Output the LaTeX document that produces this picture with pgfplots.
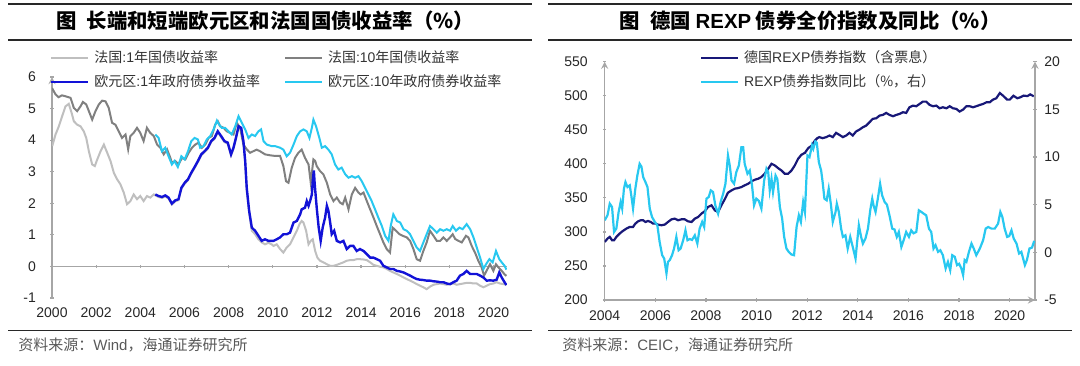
\documentclass[border=0pt]{standalone}
\usepackage{pgfplots}
\pgfplotsset{compat=1.18}
\usepackage{fontspec}
\setmainfont{Liberation Sans}
\newfontfamily\cjk{Noto Sans CJK SC}
\definecolor{frone}{RGB}{191,191,191}
\definecolor{frten}{RGB}{128,128,128}
\definecolor{euone}{RGB}{18,18,215}
\definecolor{euten}{RGB}{40,200,240}
\definecolor{navyline}{RGB}{24,24,120}
\definecolor{axgray}{RGB}{166,166,166}
\definecolor{rulecol}{RGB}{40,40,40}
\definecolor{srccol}{RGB}{89,89,89}
\pgfplotsset{
  base/.style={
    scale only axis,
    anchor=south west,
    tick align=outside,
    major tick length=1.7pt,
    axis line style={draw=axgray, line width=0.6pt, -},
    major tick style={draw=axgray, line width=0.6pt},
    ticklabel style={font=\fontsize{7}{8}\selectfont, text=black!85, inner sep=0pt},
    scaled ticks=false,
    legend cell align=left,
    legend image code/.code={\draw[##1] (0pt,0pt) -- (18.5pt,0pt);},
  },
}
\begin{document}
\begin{tikzpicture}
\path[use as bounding box] (0pt,0pt) rectangle (540pt,-182.5pt);
% rules
\draw[rulecol, line width=1pt] (4pt,-2pt) -- (266pt,-2pt);
\draw[rulecol, line width=0.8pt] (4pt,-20pt) -- (266pt,-20pt);
\draw[rulecol, line width=0.8pt] (4pt,-165.3pt) -- (266pt,-165.3pt);
\draw[rulecol, line width=1pt] (274pt,-2pt) -- (536pt,-2pt);
\draw[rulecol, line width=0.8pt] (274pt,-20pt) -- (536pt,-20pt);
\draw[rulecol, line width=0.8pt] (274pt,-165.3pt) -- (536pt,-165.3pt);
% titles
\node[font=\fontsize{10.2}{12}\selectfont] at (132.5pt,-10.6pt) {{\cjk\bfseries 图\hspace{0.5em}长端和短端欧元区和法国国债收益率（\%）}};
\node[font=\fontsize{10.2}{12}\selectfont] at (405pt,-10.6pt) {{\cjk\bfseries 图\hspace{0.5em}德国 }{\bfseries REXP}{\cjk\bfseries\ 债券全价指数及同比（\%）}};
% sources
\node[anchor=west, inner sep=0pt, text=srccol, font=\fontsize{7.5}{9}\selectfont] at (9pt,-172.5pt) {{\cjk 资料来源：}Wind{\cjk ，海通证券研究所}};
\node[anchor=west, inner sep=0pt, text=srccol, font=\fontsize{7.5}{9}\selectfont] at (281pt,-172.5pt) {{\cjk 资料来源：}CEIC{\cjk ，海通证券研究所}};

% ---------------- left panel ----------------
\begin{axis}[base,
  at={(26pt,-149pt)},
  width=227.4pt, height=110.5pt,
  xmin=2000, xmax=2020.6, ymin=-1, ymax=6,
  axis x line=middle, axis y line=left,
  every inner x axis line/.append style={-},
  hide obscured x ticks=false,
  xtick={2000,2002,...,2020},
  xticklabels={2000,2002,2004,2006,2008,2010,2012,2014,2016,2018,2020},
  ytick={-1,0,1,2,3,4,5,6},
  yticklabels={-1,0,1,2,3,4,5,6},
  xticklabel style={anchor=north, yshift=-19.8pt},
  yticklabel style={anchor=east, xshift=-7pt},
  legend columns=2,
  legend style={at={(-0.0044,1.12)}, anchor=north west, draw=none, fill=none,
    inner sep=0pt, outer sep=0pt, row sep=4.5pt,
    font=\fontsize{7}{8}\selectfont, text=black!80,
    nodes={inner sep=0pt, text height=6pt, text depth=1.5pt},
    /tikz/every odd column/.append style={column sep=2.5pt},
    /tikz/every even column/.append style={column sep=0pt}},
]
\addplot[frone, line width=1pt] coordinates {
(2000.01,3.81)(2000.16,4.18)(2000.31,4.44)(2000.46,4.76)(2000.61,5.07)(2000.76,5.15)(2000.89,4.86)(2000.99,4.60)
(2001.14,4.49)(2001.29,4.44)(2001.44,4.28)(2001.55,4.07)(2001.67,3.65)(2001.82,3.23)(2001.94,3.18)(2002.05,3.39)
(2002.20,3.65)(2002.35,3.86)(2002.50,3.60)(2002.65,3.34)(2002.80,2.97)(2002.95,2.76)(2003.10,2.60)(2003.25,2.34)
(2003.40,1.97)(2003.55,2.07)(2003.70,2.28)(2003.85,2.13)(2004.00,2.23)(2004.15,2.07)(2004.30,2.23)(2004.45,2.18)
(2004.61,2.28)(2004.68,2.25)(2004.83,2.20)(2004.98,2.17)(2005.13,2.22)(2005.28,2.15)(2005.43,1.96)(2005.58,2.06)
(2005.73,2.10)(2005.86,2.46)(2006.01,2.62)(2006.16,2.73)(2006.31,2.94)(2006.46,3.12)(2006.61,3.31)(2006.76,3.52)
(2006.91,3.62)(2007.06,3.73)(2007.21,3.94)(2007.36,4.04)(2007.51,4.25)(2007.66,4.10)(2007.81,3.94)(2007.96,3.89)
(2008.11,3.52)(2008.22,3.73)(2008.33,4.04)(2008.45,4.41)(2008.57,4.36)(2008.67,3.94)(2008.75,3.31)(2008.82,2.40)
(2008.93,1.70)(2009.05,1.13)(2009.20,1.02)(2009.35,0.86)(2009.50,0.76)(2009.65,0.70)(2009.80,0.75)(2009.95,0.70)
(2010.03,0.65)(2010.18,0.70)(2010.33,0.55)(2010.48,0.44)(2010.63,0.60)(2010.78,0.70)(2010.94,0.92)(2011.09,1.13)
(2011.21,1.34)(2011.31,1.44)(2011.39,1.39)(2011.51,1.13)(2011.62,0.70)(2011.72,0.81)(2011.81,0.86)(2011.92,0.49)
(2012.02,0.28)(2012.14,0.18)(2012.29,0.13)(2012.45,0.07)(2012.60,0.02)(2012.75,0.02)(2012.90,0.05)(2013.05,0.09)
(2013.20,0.13)(2013.35,0.18)(2013.50,0.20)(2013.65,0.20)(2013.80,0.23)(2013.95,0.23)(2014.11,0.22)(2014.26,0.20)
(2014.41,0.13)(2014.56,0.05)(2014.71,0.02)(2014.86,-0.01)(2015.01,-0.03)(2015.16,-0.08)(2015.31,-0.14)(2015.46,-0.19)
(2015.62,-0.24)(2015.77,-0.29)(2015.92,-0.35)(2016.07,-0.40)(2016.22,-0.45)(2016.37,-0.50)(2016.52,-0.56)(2016.67,-0.61)
(2016.82,-0.66)(2016.97,-0.72)(2017.12,-0.64)(2017.28,-0.58)(2017.43,-0.56)(2017.58,-0.54)(2017.73,-0.56)(2017.88,-0.58)
(2018.03,-0.56)(2018.18,-0.54)(2018.33,-0.58)(2018.48,-0.56)(2018.63,-0.54)(2018.78,-0.52)(2018.94,-0.52)(2019.09,-0.54)
(2019.24,-0.54)(2019.39,-0.61)(2019.54,-0.66)(2019.69,-0.61)(2019.84,-0.56)(2019.99,-0.54)(2020.14,-0.50)(2020.29,-0.54)
(2020.45,-0.56)(2020.58,-0.58)
};
\addlegendentry{\makebox[94.8pt][l]{{\cjk 法国}:1{\cjk 年国债收益率}}}
\addplot[frten, line width=1pt] coordinates {
(2000.00,5.65)(2000.16,5.45)(2000.30,5.36)(2000.45,5.42)(2000.61,5.39)(2000.84,5.34)(2000.99,5.02)(2001.14,4.92)
(2001.29,5.07)(2001.40,5.21)(2001.55,5.13)(2001.67,4.92)(2001.82,4.65)(2001.97,4.92)(2002.12,5.13)(2002.27,5.25)
(2002.42,5.23)(2002.57,5.02)(2002.72,4.55)(2002.87,4.49)(2003.02,4.28)(2003.17,4.07)(2003.33,4.18)(2003.45,3.71)
(2003.55,4.13)(2003.70,4.23)(2003.85,4.39)(2004.00,4.23)(2004.15,3.97)(2004.30,4.39)(2004.45,4.23)(2004.61,4.13)
(2004.76,3.86)(2004.91,3.76)(2005.06,3.55)(2005.21,3.71)(2005.36,3.44)(2005.43,3.28)(2005.58,3.34)(2005.73,3.23)
(2005.89,3.44)(2006.04,3.39)(2006.19,3.60)(2006.34,3.76)(2006.49,3.86)(2006.64,3.92)(2006.79,3.76)(2006.94,3.86)
(2007.09,4.07)(2007.24,4.13)(2007.39,4.49)(2007.51,4.60)(2007.62,4.44)(2007.77,4.39)(2007.92,4.28)(2008.07,4.23)
(2008.22,4.18)(2008.37,4.55)(2008.52,4.39)(2008.67,3.86)(2008.82,3.71)(2008.97,3.60)(2009.12,3.65)(2009.27,3.70)
(2009.42,3.65)(2009.65,3.55)(2009.88,3.52)(2010.11,3.50)(2010.33,3.50)(2010.48,3.18)(2010.60,2.70)(2010.71,2.65)
(2010.86,3.13)(2011.01,3.44)(2011.16,3.60)(2011.31,3.70)(2011.46,3.44)(2011.62,3.23)(2011.72,2.65)(2011.84,3.39)
(2011.92,3.34)(2011.99,3.18)(2012.14,3.02)(2012.29,2.92)(2012.45,2.65)(2012.60,2.28)(2012.75,2.07)(2012.90,2.18)
(2013.05,2.02)(2013.17,1.97)(2013.28,2.18)(2013.43,1.81)(2013.58,2.28)(2013.73,2.49)(2013.88,2.34)(2013.98,2.28)
(2014.11,2.34)(2014.26,2.07)(2014.41,1.81)(2014.56,1.55)(2014.71,1.28)(2014.86,1.02)(2015.01,0.76)(2015.16,0.55)
(2015.31,0.44)(2015.43,1.23)(2015.58,1.13)(2015.74,1.02)(2015.89,0.97)(2016.07,0.92)(2016.22,0.81)(2016.37,0.55)
(2016.52,0.23)(2016.67,0.18)(2016.82,0.49)(2016.97,0.76)(2017.12,1.13)(2017.28,0.97)(2017.43,0.81)(2017.58,0.81)
(2017.73,0.92)(2017.88,0.81)(2018.03,0.92)(2018.15,1.02)(2018.26,0.87)(2018.41,0.81)(2018.56,0.76)(2018.75,0.97)
(2018.86,0.92)(2019.01,0.65)(2019.16,0.44)(2019.31,0.18)(2019.46,-0.03)(2019.57,-0.29)(2019.68,-0.14)(2019.84,0.07)
(2019.99,-0.14)(2020.11,0.07)(2020.22,-0.03)(2020.37,-0.14)(2020.50,-0.25)(2020.58,-0.30)
};
\addlegendentry{{\cjk 法国}:10{\cjk 年国债收益率}}
\addplot[euone, line width=1.2pt] coordinates {
(2004.68,2.28)(2004.83,2.23)(2004.98,2.20)(2005.13,2.25)(2005.28,2.18)(2005.43,1.99)(2005.58,2.09)(2005.73,2.13)
(2005.86,2.49)(2006.01,2.65)(2006.16,2.76)(2006.31,2.97)(2006.46,3.15)(2006.61,3.34)(2006.76,3.55)(2006.91,3.65)
(2007.06,3.76)(2007.21,3.97)(2007.36,4.07)(2007.51,4.28)(2007.66,4.13)(2007.81,3.97)(2007.96,3.92)(2008.11,3.55)
(2008.22,3.76)(2008.33,4.07)(2008.45,4.44)(2008.57,4.39)(2008.67,3.97)(2008.75,3.34)(2008.82,2.49)(2008.93,1.76)
(2009.05,1.23)(2009.20,1.13)(2009.35,0.97)(2009.50,0.81)(2009.65,0.86)(2009.80,0.81)(2009.95,0.81)(2010.03,0.81)
(2010.18,0.86)(2010.33,0.92)(2010.48,1.02)(2010.63,1.02)(2010.78,1.07)(2010.94,1.39)(2011.09,1.44)(2011.24,1.65)
(2011.31,1.81)(2011.46,1.86)(2011.54,2.07)(2011.62,1.92)(2011.69,2.07)(2011.77,2.28)(2011.81,2.70)(2011.86,3.04)
(2011.90,2.60)(2011.99,1.86)(2012.08,1.23)(2012.17,0.81)(2012.26,1.23)(2012.37,1.55)(2012.45,1.92)(2012.52,1.76)
(2012.60,1.39)(2012.67,1.02)(2012.78,1.13)(2012.90,0.81)(2013.05,0.76)(2013.20,0.81)(2013.35,0.55)(2013.50,0.65)
(2013.65,0.65)(2013.80,0.49)(2013.95,0.55)(2014.11,0.49)(2014.26,0.39)(2014.41,0.28)(2014.56,0.28)(2014.71,0.23)
(2014.86,0.18)(2015.01,0.02)(2015.16,-0.03)(2015.31,-0.08)(2015.46,-0.08)(2015.62,-0.14)(2015.77,-0.16)(2015.92,-0.19)
(2016.07,-0.24)(2016.22,-0.29)(2016.37,-0.35)(2016.52,-0.40)(2016.67,-0.42)(2016.82,-0.43)(2016.97,-0.45)(2017.12,-0.45)
(2017.28,-0.47)(2017.43,-0.48)(2017.58,-0.50)(2017.73,-0.50)(2017.88,-0.54)(2018.03,-0.56)(2018.18,-0.50)(2018.33,-0.45)
(2018.48,-0.29)(2018.63,-0.24)(2018.78,-0.14)(2018.94,-0.24)(2019.09,-0.24)(2019.24,-0.24)(2019.39,-0.29)(2019.54,-0.35)
(2019.69,-0.45)(2019.84,-0.44)(2019.99,-0.45)(2020.14,-0.42)(2020.26,-0.19)(2020.37,-0.35)(2020.48,-0.48)(2020.58,-0.59)
};
\addlegendentry{\makebox[94.8pt][l]{{\cjk 欧元区}:1{\cjk 年政府债券收益率}}}
\addplot[euten, line width=1pt] coordinates {
(2004.68,4.18)(2004.83,4.07)(2004.98,3.65)(2005.13,3.76)(2005.28,3.49)(2005.43,3.23)(2005.55,3.34)(2005.70,3.15)
(2005.86,3.49)(2006.01,3.39)(2006.16,3.65)(2006.31,3.97)(2006.46,4.07)(2006.61,4.02)(2006.71,3.76)(2006.86,3.81)
(2007.01,4.02)(2007.17,4.13)(2007.32,4.34)(2007.47,4.62)(2007.57,4.49)(2007.69,4.39)(2007.84,4.39)(2007.99,4.28)
(2008.14,4.18)(2008.30,4.44)(2008.45,4.76)(2008.60,4.55)(2008.75,4.34)(2008.90,4.07)(2009.05,4.18)(2009.20,4.13)
(2009.35,4.28)(2009.47,4.34)(2009.58,3.97)(2009.73,3.86)(2009.95,3.81)(2010.11,3.81)(2010.33,3.76)(2010.48,3.70)
(2010.63,3.49)(2010.78,3.60)(2010.94,3.86)(2011.09,4.13)(2011.24,4.28)(2011.39,4.34)(2011.54,4.28)(2011.66,4.07)
(2011.77,4.39)(2011.84,4.65)(2011.96,4.44)(2012.11,4.07)(2012.22,3.76)(2012.37,3.81)(2012.52,3.70)(2012.67,3.55)
(2012.82,3.23)(2012.97,3.07)(2013.12,3.13)(2013.28,2.92)(2013.43,2.81)(2013.58,2.86)(2013.73,2.81)(2013.88,2.86)
(2014.03,2.70)(2014.18,2.49)(2014.33,2.28)(2014.48,2.07)(2014.63,1.81)(2014.78,1.55)(2014.94,1.28)(2015.09,0.97)
(2015.24,0.81)(2015.34,1.28)(2015.46,1.65)(2015.62,1.44)(2015.77,1.39)(2015.92,1.18)(2016.07,1.13)(2016.22,1.02)
(2016.37,0.81)(2016.52,0.60)(2016.67,0.49)(2016.82,0.76)(2016.97,1.02)(2017.12,1.28)(2017.28,1.18)(2017.43,1.07)
(2017.58,1.18)(2017.73,1.13)(2017.88,1.18)(2018.03,1.13)(2018.15,1.28)(2018.30,1.13)(2018.45,1.23)(2018.60,1.18)
(2018.78,1.34)(2018.94,1.18)(2019.09,0.92)(2019.24,0.60)(2019.39,0.28)(2019.54,-0.08)(2019.66,0.07)(2019.81,0.23)
(2019.96,0.13)(2020.11,0.49)(2020.26,0.23)(2020.37,0.13)(2020.50,0.02)(2020.58,-0.10)
};
\addlegendentry{{\cjk 欧元区}:10{\cjk 年政府债券收益率}}
\end{axis}

% ---------------- right panel ----------------
\begin{axis}[base,
  at={(302.35pt,-150pt)},
  width=215.15pt, height=119.15pt,
  xmin=2004, xmax=2021, ymin=200, ymax=550,
  axis x line=bottom, axis y line=left,
  xtick={2004,2006,...,2020},
  xticklabels={2004,2006,2008,2010,2012,2014,2016,2018,2020},
  ytick={200,250,...,550},
  yticklabels={200,250,300,350,400,450,500,550},
  xticklabel style={anchor=north, yshift=-4.2pt},
  yticklabel style={anchor=east, xshift=-7.5pt},
]
\addplot[navyline, line width=1.1pt] coordinates {
(2004.00,285.3)(2004.11,290.2)(2004.20,292.7)(2004.29,287.8)(2004.37,287.8)(2004.46,292.7)(2004.59,297.6)(2004.72,301.5)
(2004.86,305.0)(2004.99,307.3)(2005.12,307.3)(2005.21,312.2)(2005.32,315.6)(2005.42,317.1)(2005.52,317.1)(2005.61,314.6)
(2005.71,316.1)(2005.82,314.6)(2005.91,312.2)(2006.00,312.2)(2006.11,310.7)(2006.24,309.8)(2006.37,310.7)(2006.50,314.6)
(2006.64,318.5)(2006.77,319.5)(2006.90,317.1)(2007.03,318.5)(2007.16,318.5)(2007.29,315.6)(2007.43,314.6)(2007.56,319.5)
(2007.69,321.9)(2007.82,326.8)(2007.95,330.3)(2008.08,336.6)(2008.22,339.1)(2008.35,331.7)(2008.48,329.3)(2008.61,339.1)
(2008.74,347.8)(2008.87,357.6)(2009.01,361.0)(2009.14,363.5)(2009.27,364.4)(2009.40,365.9)(2009.53,368.4)(2009.67,370.8)
(2009.80,374.2)(2009.93,376.7)(2010.06,378.1)(2010.19,380.6)(2010.32,385.5)(2010.46,392.8)(2010.59,400.1)(2010.72,397.7)
(2010.85,393.7)(2010.98,390.3)(2011.11,385.5)(2011.25,385.5)(2011.38,390.3)(2011.51,397.7)(2011.64,407.4)(2011.77,413.3)
(2011.91,416.2)(2012.04,423.1)(2012.17,426.5)(2012.30,434.0)(2012.40,437.7)(2012.48,439.2)(2012.61,437.7)(2012.75,439.2)
(2012.88,441.6)(2013.01,439.2)(2013.14,445.5)(2013.27,442.6)(2013.41,439.2)(2013.54,441.6)(2013.67,445.5)(2013.80,441.6)
(2013.93,447.5)(2014.07,450.4)(2014.20,453.8)(2014.33,456.2)(2014.46,461.1)(2014.59,466.0)(2014.73,467.0)(2014.86,470.9)
(2014.99,471.9)(2015.12,474.8)(2015.25,471.9)(2015.39,469.9)(2015.52,471.9)(2015.65,473.3)(2015.78,475.8)(2015.91,474.8)
(2016.04,483.1)(2016.18,485.5)(2016.31,484.6)(2016.44,488.0)(2016.57,491.4)(2016.70,491.4)(2016.84,486.5)(2016.97,484.6)
(2017.10,485.5)(2017.23,481.6)(2017.36,483.1)(2017.50,481.6)(2017.63,484.6)(2017.76,481.6)(2017.89,480.7)(2018.02,476.8)
(2018.16,479.7)(2018.29,484.6)(2018.42,484.6)(2018.55,483.1)(2018.68,484.6)(2018.82,486.5)(2018.95,488.0)(2019.08,490.4)
(2019.21,490.4)(2019.34,494.3)(2019.47,496.3)(2019.61,504.0)(2019.74,500.0)(2019.90,494.3)(2020.00,494.3)(2020.15,500.0)
(2020.30,496.3)(2020.42,497.8)(2020.55,500.2)(2020.70,499.5)(2020.81,502.0)(2020.95,499.2)
};
\end{axis}
\begin{axis}[base,
  at={(302.35pt,-150pt)},
  width=215.15pt, height=119.15pt,
  xmin=2004, xmax=2021, ymin=-5, ymax=20,
  axis x line=none, axis y line=right,
  ytick={-5,0,5,10,15,20},
  yticklabels={-5,0,5,10,15,20},
  yticklabel style={anchor=west, xshift=3.6pt},
  legend style={at={(0.2215,1.0457)}, anchor=north west, draw=none, fill=none,
    inner sep=0pt, outer sep=0pt, row sep=4.5pt,
    font=\fontsize{7}{8}\selectfont, text=black!80,
    nodes={inner sep=0pt, text height=6pt, text depth=1.5pt},
    /tikz/every odd column/.append style={column sep=2.5pt}},
]
\addlegendimage{navyline, line width=1.1pt}
\addlegendentry{{\cjk 德国}REXP{\cjk 债券指数（含票息）}}
\addplot[euten, line width=1.1pt] coordinates {
(2004.00,3.36)(2004.11,3.89)(2004.20,5.11)(2004.29,4.76)(2004.37,2.14)(2004.46,2.50)(2004.55,4.24)(2004.63,5.28)
(2004.69,4.59)(2004.76,6.68)(2004.82,7.37)(2004.90,6.85)(2004.99,7.03)(2005.05,5.98)(2005.12,4.59)(2005.21,6.68)
(2005.29,8.07)(2005.38,9.29)(2005.45,9.00)(2005.52,7.90)(2005.61,7.37)(2005.69,6.85)(2005.78,4.59)(2005.87,3.71)
(2005.98,3.19)(2006.08,2.84)(2006.17,1.09)(2006.27,-0.30)(2006.35,-0.65)(2006.44,-2.21)(2006.50,-1.00)(2006.57,-0.82)
(2006.66,-0.30)(2006.74,0.40)(2006.83,1.62)(2006.92,0.22)(2007.00,0.40)(2007.10,1.27)(2007.19,2.31)(2007.27,1.27)
(2007.36,1.40)(2007.45,1.30)(2007.56,1.79)(2007.66,0.92)(2007.75,2.49)(2007.85,3.19)(2007.93,2.66)(2008.02,5.63)
(2008.11,5.81)(2008.19,6.50)(2008.28,6.33)(2008.37,4.94)(2008.48,4.06)(2008.58,5.28)(2008.68,6.15)(2008.77,7.20)
(2008.87,10.16)(2008.94,9.12)(2009.01,7.55)(2009.11,7.20)(2009.20,8.42)(2009.30,9.12)(2009.40,11.04)(2009.47,11.04)
(2009.53,9.29)(2009.64,8.25)(2009.73,8.59)(2009.82,7.03)(2009.90,4.94)(2009.99,5.63)(2010.09,5.40)(2010.19,4.59)
(2010.30,7.55)(2010.39,8.77)(2010.46,8.40)(2010.52,6.50)(2010.59,7.72)(2010.65,6.33)(2010.75,8.07)(2010.82,7.70)
(2010.92,4.76)(2011.01,3.54)(2011.09,1.62)(2011.18,0.40)(2011.27,0.05)(2011.38,-0.23)(2011.48,-0.30)(2011.58,2.66)
(2011.67,3.89)(2011.75,3.19)(2011.84,5.28)(2011.91,4.24)(2012.01,10.16)(2012.09,9.99)(2012.19,11.21)(2012.24,10.86)
(2012.32,11.63)(2012.38,11.50)(2012.46,9.46)(2012.55,8.59)(2012.61,7.37)(2012.68,5.63)(2012.77,5.46)(2012.85,6.68)
(2012.94,4.94)(2013.01,3.19)(2013.12,4.24)(2013.17,5.11)(2013.25,4.24)(2013.34,2.49)(2013.41,1.62)(2013.51,1.79)
(2013.60,0.40)(2013.70,1.62)(2013.80,0.57)(2013.91,-0.65)(2013.96,0.75)(2014.04,2.84)(2014.13,1.62)(2014.20,0.92)
(2014.30,1.44)(2014.40,2.49)(2014.49,4.41)(2014.57,5.63)(2014.62,4.94)(2014.70,4.24)(2014.79,5.63)(2014.88,7.20)
(2014.96,5.98)(2015.06,5.28)(2015.15,5.00)(2015.25,3.89)(2015.36,2.49)(2015.45,2.40)(2015.54,1.62)(2015.62,2.14)
(2015.72,0.57)(2015.81,1.27)(2015.91,2.14)(2016.02,1.62)(2016.11,2.31)(2016.20,2.00)(2016.31,2.14)(2016.41,4.41)
(2016.51,4.24)(2016.60,4.06)(2016.70,3.89)(2016.81,2.49)(2016.90,2.14)(2016.99,0.40)(2017.07,0.75)(2017.17,0.05)
(2017.26,0.22)(2017.36,-0.30)(2017.47,-1.69)(2017.56,-1.00)(2017.65,-1.87)(2017.73,-0.30)(2017.83,-0.47)(2017.92,-1.34)
(2018.00,-1.20)(2018.09,-1.69)(2018.16,-2.39)(2018.22,-0.82)(2018.29,-1.00)(2018.39,0.05)(2018.49,0.92)(2018.58,0.40)
(2018.68,-0.30)(2018.82,0.40)(2018.95,1.27)(2019.05,2.49)(2019.15,2.66)(2019.28,2.49)(2019.41,2.49)(2019.54,3.01)
(2019.63,4.24)(2019.71,3.71)(2019.80,2.49)(2019.90,1.62)(2019.98,1.70)(2020.07,2.31)(2020.16,1.44)(2020.27,0.92)
(2020.37,-0.12)(2020.46,0.05)(2020.60,-1.34)(2020.68,-0.80)(2020.78,0.40)(2020.88,0.50)(2020.97,1.20)
};
\addlegendentry{REXP{\cjk 债券指数同比（\%，右）}}
\end{axis}
\end{tikzpicture}
\end{document}
